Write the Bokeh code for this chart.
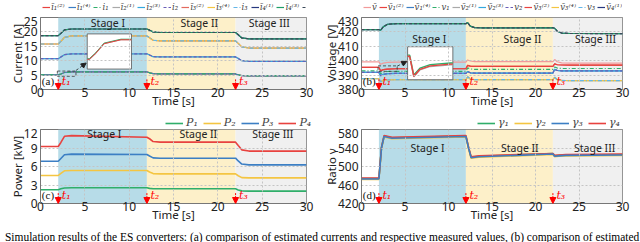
import numpy as np
from bokeh.plotting import figure
from bokeh.models import (Range1d, FixedTicker, Legend, LegendItem, Label, Arrow,
                          NormalHead, Div, Spacer)
from bokeh.layouts import column, row
from bokeh.embed import file_html
from bokeh.resources import INLINE

# ---------------- data ----------------
x_ticks = [0, 5, 10, 15, 20, 25, 30]
events = [2, 12, 22]
event_labels = ["t\u2081", "t\u2082", "t\u2083"]
stage_edges = [2, 12, 22, 30]
stage_names = ["Stage I", "Stage II", "Stage III"]

# (a) currents and (c) powers
t_ac = [0, 2, 2.3, 2.7, 3.5, 12, 12.3, 12.7, 13.5, 22, 22.3, 22.7, 23.5, 30]
cur_i1 = [5.1, 5.1, 5.4, 5.9, 6.1, 6.1, 5.8, 5.5, 5.4, 5.4, 5.1, 4.8, 4.7, 4.7]
cur_i2 = [10.7, 10.7, 11.3, 12.1, 12.4, 12.4, 12.0, 11.4, 11.3, 11.3, 10.8, 10.0, 9.8, 9.8]
cur_i3 = [15.8, 15.8, 16.7, 18.1, 18.6, 18.6, 18.0, 17.1, 16.9, 16.9, 16.0, 14.8, 14.4, 14.4]
cur_i4 = [18.7, 18.7, 19.5, 20.7, 21.0, 21.0, 20.6, 20.0, 19.8, 19.8, 19.0, 17.9, 17.6, 17.6]

pow_p1 = [2.22, 2.22, 2.38, 2.52, 2.55, 2.55, 2.45, 2.40, 2.38, 2.38, 2.20, 2.05, 2.00, 2.00]
pow_p2 = [4.54, 4.54, 4.90, 5.30, 5.35, 5.35, 5.10, 4.85, 4.80, 4.80, 4.50, 4.20, 4.16, 4.16]
pow_p3 = [6.85, 6.85, 7.30, 7.90, 8.00, 7.95, 7.70, 7.40, 7.35, 7.35, 6.90, 6.40, 6.27, 6.27]
pow_p4 = [9.25, 9.25, 9.90, 10.90, 11.00, 10.75, 10.50, 10.05, 9.95, 9.95, 9.40, 8.70, 8.50, 8.50]

# (b) voltages
t_b = [0, 2, 2.2, 2.5, 3.0, 4.0, 12, 12.2, 12.5, 13.0, 14.0, 22, 22.2, 22.5, 23.0, 24.0, 30]
volt_top = [421.6, 421.6, 421.2, 423.5, 425.3, 425.7, 425.7, 426.5, 424.0, 423.0, 422.8, 422.9, 422.5, 420.5, 419.2, 418.9, 418.8]
volt_mean = [399.2, 399.2, 397.5, 398.3, 398.8, 399.0, 399.0, 400.5, 399.8, 399.4, 399.4, 399.4, 400.8, 399.3, 398.5, 398.3, 398.3]
volt_red = [395.3, 395.3, 393.0, 393.8, 394.2, 394.4, 394.4, 396.8, 396.2, 396.0, 396.0, 396.0, 397.8, 397.2, 397.0, 396.9, 396.9]
volt_green = [393.0, 393.0, 391.0, 392.0, 392.5, 392.6, 392.6, 395.0, 394.3, 394.0, 394.0, 394.0, 395.6, 394.9, 394.6, 394.6, 394.6]
volt_blue = [391.9, 391.9, 389.5, 390.5, 391.0, 391.2, 391.2, 392.5, 391.6, 391.4, 391.4, 391.4, 394.0, 393.2, 393.0, 393.0, 393.0]
volt_low = [387.5, 387.5, 385.5, 386.3, 386.7, 386.8, 386.8, 388.8, 387.3, 386.8, 386.8, 386.8, 388.5, 386.8, 386.3, 386.2, 386.2]

# (d) ratios
t_d = [0, 2, 2.3, 2.6, 3.5, 12, 12.3, 12.6, 13.5, 22, 22.2, 22.7, 23.5, 30]
ratio_g1 = [474, 474, 541, 566, 562, 566, 541, 520, 522, 528, 523, 524, 525, 526]
ratio_g2 = [472, 472, 539, 564, 560, 564, 539, 518, 520, 526, 521, 522, 523, 524]
ratio_g3 = [473, 473, 540, 565, 561, 565, 540, 519, 521, 527, 522, 523, 524, 525]
ratio_g4 = [475, 475, 542, 567, 563, 567, 542, 521, 523, 528, 524, 525, 526, 527]

caption = ("Simulation results of the ES converters: (a) comparison of estimated currents "
           "and respective measured values, (b) comparison of estimated")

# ---------------- styling ----------------
STAGE_COLORS = ["#b7dce8", "#fdf0c9", "#f0f0f0"]
RED, BLUE, GREEN = "#e8423f", "#3c7fc4", "#2fae6a"
GRAY, LBLUE, PURPLE = "#a9a9a9", "#35a8de", "#6a5fb8"
SALMON, YELLOW, SKY = "#e36a5e", "#f4c542", "#63b6e8"
NAVY, DKGREEN, DARK = "#27387f", "#1f9e66", "#3c4a5a"
PINK = "#f29a9a"
DASH, DASHDOT = "3 2", "4 2 1 2"
SANS = "Noto Sans"
SERIF = "DejaVu Serif"
BOTTOM = 23


def make_fig(yr, yticks, ylabel, h, left, right, top):
    p = figure(width=320, height=h, x_range=Range1d(0, 30),
               y_range=Range1d(*yr), output_backend="svg", toolbar_location=None,
               min_border_left=left, min_border_right=right, min_border_top=top,
               min_border_bottom=BOTTOM)
    p.xaxis.ticker = FixedTicker(ticks=x_ticks)
    p.yaxis.ticker = FixedTicker(ticks=yticks)
    p.xaxis.axis_label = "Time [s]"
    p.yaxis.axis_label = ylabel
    for ax in (p.xaxis[0], p.yaxis[0]):
        ax.axis_label_text_font = SANS
        ax.axis_label_text_font_size = "11.5px"
        ax.axis_label_text_font_style = "normal"
        ax.axis_label_text_color = "#222222"
        ax.major_label_text_font = SANS
        ax.major_label_text_font_size = "12px"
        ax.major_label_text_color = "#222222"
        ax.major_tick_in = 0
        ax.major_tick_out = 0
        ax.minor_tick_in = 0
        ax.minor_tick_out = 0
        ax.axis_line_color = "#777777"
    p.xaxis.major_label_standoff = -2
    p.xaxis.axis_label_standoff = -7
    p.yaxis.major_label_standoff = 3
    p.yaxis.axis_label_standoff = -4
    for g in (p.xgrid[0], p.ygrid[0]):
        g.grid_line_color = "#c4c4c4"
        g.grid_line_dash = "2 2"
        g.level = "glyph"
    p.outline_line_color = "#777777"
    p.background_fill_color = "white"
    p.border_fill_color = "white"
    p.quad(left=stage_edges[:-1], right=stage_edges[1:], bottom=yr[0], top=yr[1],
           fill_color=STAGE_COLORS, line_color=None, level="underlay")
    return p


def decorate(p, yr, tag, stage_y, stage_x):
    rng = yr[1] - yr[0]
    for name, cx in zip(stage_names, stage_x):
        p.add_layout(Label(x=cx, y=stage_y, text=name, text_font=SANS,
                           text_font_size="10.5px", text_align="center",
                           text_baseline="middle", text_color="#222222"))
    for e, lab in zip(events, event_labels):
        p.add_layout(Arrow(x_start=e, y_start=yr[0] + 0.14 * rng, x_end=e, y_end=yr[0],
                           line_color="red", line_width=1, line_dash="2 1",
                           end=NormalHead(size=6, fill_color="red", line_color="red")))
        p.add_layout(Label(x=e + 0.4, y=yr[0] + 0.02 * rng, text=lab, text_font=SERIF,
                           text_font_style="italic", text_font_size="11px",
                           text_color="red", text_baseline="bottom"))
    p.add_layout(Label(x=0.15, y=yr[0] + 0.03 * rng, text=tag, text_font="Liberation Serif",
                       text_font_size="11px", text_color="#111111", text_baseline="bottom"))


def legend_strip(spec, h, x0, m, fs, gw, spacing, standoff, lw):
    """A thin strip (spacer + legend-only figure) sitting above a panel."""
    w = 320 - x0
    lf = figure(width=w, height=h, x_range=Range1d(0, 1), y_range=Range1d(0, 1),
                x_axis_type=None, y_axis_type=None, output_backend="svg",
                toolbar_location=None, min_border=0, min_border_left=0,
                min_border_right=0, min_border_top=0, min_border_bottom=0)
    lf.outline_line_color = None
    lf.background_fill_color = "white"
    lf.border_fill_color = "white"
    items = []
    for lab, col, dash in spec:
        kw = {"line_dash": dash} if dash else {}
        # one off-screen segment per entry so the legend glyph has a style to draw
        r = lf.line(x=[5, 6], y=[5, 5], line_color=col, line_width=lw, **kw)
        items.append(LegendItem(label=lab, renderers=[r]))
    lg = Legend(items=items, location="top_left", orientation="horizontal",
                label_text_font=SERIF, label_text_font_style="italic",
                label_text_font_size=fs, glyph_width=gw, glyph_height=8,
                label_height=8, label_width=0, label_standoff=standoff, spacing=spacing,
                padding=0, margin=m, border_line_color=None,
                background_fill_alpha=0)
    lf.add_layout(lg)
    if x0 > 0:
        return row(Spacer(width=x0, height=h), lf)
    return lf


def inset(p, box, win, series):
    bx0, bx1, by0, by1 = box
    wx0, wx1, wy0, wy1 = win
    p.quad(left=[wx0], right=[wx1], bottom=[wy0], top=[wy1], fill_alpha=0,
           line_color="#333333", line_dash="3 2", line_width=0.8)
    p.quad(left=[bx0], right=[bx1], bottom=[by0], top=[by1], fill_color="white",
           line_color="#555555", line_width=0.8)
    for xs, ys, col, w, dy in series:
        xs = np.asarray(xs, float)
        ys = np.asarray(ys, float)
        m = (xs > wx0) & (xs < wx1)
        X = np.concatenate([[wx0], xs[m], [wx1]])
        Y = np.concatenate([[np.interp(wx0, xs, ys)], ys[m], [np.interp(wx1, xs, ys)]])
        sx = bx0 + (X - wx0) / (wx1 - wx0) * (bx1 - bx0)
        sy = by0 + (Y - wy0) / (wy1 - wy0) * (by1 - by0) + dy
        p.line(sx, sy, line_color=col, line_width=w)


LEG_H = 16
H_TOP, H_BOT = 96, 98

# ---------------- (a) currents ----------------
yr_a = (0, 25)
pa = make_fig(yr_a, [0, 5, 10, 15, 20, 25], "Current [A]", H_TOP, 40, 14, 1)
spec_a = [
    ("ĩ\u2081\u207d\u00b2\u207e", RED, None, cur_i1), ("ĩ\u2081\u207d\u2074\u207e", BLUE, None, cur_i1),
    ("i\u2081", GREEN, DASHDOT, cur_i1),
    ("ĩ\u2082\u207d\u00b9\u207e", GRAY, None, cur_i2), ("ĩ\u2082\u207d\u00b3\u207e", LBLUE, None, cur_i2),
    ("i\u2082", PURPLE, DASH, cur_i2),
    ("ĩ\u2083\u207d\u00b2\u207e", SALMON, None, cur_i3), ("ĩ\u2083\u207d\u2074\u207e", YELLOW, None, cur_i3),
    ("i\u2083", SKY, DASHDOT, cur_i3),
    ("ĩ\u2084\u207d\u00b9\u207e", NAVY, None, cur_i4), ("ĩ\u2084\u207d\u00b3\u207e", DKGREEN, None, cur_i4),
    ("i\u2084", DARK, DASH, cur_i4),
]
for lab, col, dash, ys in spec_a:
    kw = {"line_dash": dash} if dash else {}
    pa.line(t_ac, ys, line_color=col, line_width=1.2, **kw)
inset(pa, (5.27, 10.26, 7.1, 19.3), (1.9, 4.0, 4.6, 6.4),
      [(t_ac, cur_i1, GRAY, 1.2, 0.0), (t_ac, cur_i1, GREEN, 1.0, 0.2), (t_ac, cur_i1, RED, 1.0, 0.0)])
pa.add_layout(Arrow(x_start=4.0, y_start=6.6, x_end=5.15, y_end=9.2, line_color="#222222",
                    line_width=0.8, line_dash="3 2",
                    end=NormalHead(size=5, fill_color="#222222", line_color="#222222")))
decorate(pa, yr_a, "(a)", 23.0, [7.6, 17.9, 25.8])
la = legend_strip([(s[0], s[1], s[2]) for s in spec_a], LEG_H, 0, 2, "8.5px", 8, 3, 1, 1.2)

# ---------------- (b) voltages ----------------
yr_b = (380, 430)
pb = make_fig(yr_b, [380, 390, 400, 410, 420, 430], "Voltage [V]", H_TOP, 36, 18, 1)
spec_b = [
    ("v\u0304", PINK, None, volt_mean),
    ("ṽ\u2081\u207d\u00b2\u207e", RED, None, volt_red), ("ṽ\u2081\u207d\u2074\u207e", BLUE, None, volt_blue),
    ("v\u2081", GREEN, DASHDOT, volt_green),
    ("ṽ\u2082\u207d\u00b9\u207e", GRAY, None, volt_low), ("ṽ\u2082\u207d\u00b3\u207e", LBLUE, None, volt_blue),
    ("v\u2082", PURPLE, DASH, volt_blue),
    ("ṽ\u2083\u207d\u00b2\u207e", RED, None, volt_red), ("ṽ\u2083\u207d\u2074\u207e", YELLOW, None, volt_low),
    ("v\u2083", SKY, DASHDOT, volt_low),
    ("ṽ\u2084\u207d\u00b9\u207e", NAVY, None, volt_top), ("ṽ\u2084\u207d\u00b3\u207e", DKGREEN, None, volt_top),
    ("v\u2084", DARK, DASH, volt_top),
]
for lab, col, dash, ys in spec_b:
    kw = {"line_dash": dash} if dash else {}
    pb.line(t_b, ys, line_color=col, line_width=1.2, **kw)
inset(pb, (5.3, 10.5, 386.8, 409.7), (1.9, 4.1, 392.6, 396.4),
      [(t_b, volt_red, GREEN, 1.4, 0.8), (t_b, volt_red, GRAY, 1.2, -0.5), (t_b, volt_red, RED, 1.4, 0.0)])
pb.add_layout(Arrow(x_start=4.1, y_start=396.2, x_end=5.2, y_end=399.5, line_color="#222222",
                    line_width=0.8, line_dash="3 2",
                    end=NormalHead(size=5, fill_color="#222222", line_color="#222222")))
decorate(pb, yr_b, "(b)", 415.0, [7.8, 18.5, 26.9])
lb = legend_strip([(s[0], s[1], s[2]) for s in spec_b], LEG_H, 0, 2, "8.5px", 8, 2, 1, 1.2)

# ---------------- (c) powers ----------------
yr_c = (0, 12)
pc = make_fig(yr_c, [0, 3, 6, 9, 12], "Power [kW]", H_BOT, 40, 14, 1)
spec_c = [("P\u2081", GREEN, None, pow_p1), ("P\u2082", YELLOW, None, pow_p2),
          ("P\u2083", BLUE, None, pow_p3), ("P\u2084", RED, None, pow_p4)]
for lab, col, dash, ys in spec_c:
    pc.line(t_ac, ys, line_color=col, line_width=1.6)
decorate(pc, yr_c, "(c)", 11.35, [7.2, 17.8, 26.2])
lc = legend_strip([(s[0], s[1], s[2]) for s in spec_c], LEG_H, 161, 4, "11px", 18, 5, 3, 1.6)

# ---------------- (d) ratios ----------------
yr_d = (420, 580)
pd_ = make_fig(yr_d, [420, 460, 500, 540, 580], "Ratio \u03b3", H_BOT, 36, 18, 1)
spec_d = [("\u03b3\u2081", GREEN, None, ratio_g1), ("\u03b3\u2082", YELLOW, None, ratio_g2),
          ("\u03b3\u2083", BLUE, None, ratio_g3), ("\u03b3\u2084", RED, None, ratio_g4)]
for idx in [0, 1, 3, 2]:
    lab, col, dash, ys = spec_d[idx]
    pd_.line(t_d, ys, line_color=col, line_width=1.6)
decorate(pd_, yr_d, "(d)", 540.0, [7.6, 18.2, 26.8])
ld = legend_strip([(s[0], s[1], s[2]) for s in spec_d], LEG_H, 153, 4, "11px", 18, 5, 3, 1.6)

cap = Div(text=caption, width=640, height=16,
          styles={"font-family": "'Liberation Serif', serif", "font-size": "11.45px",
                  "white-space": "nowrap", "color": "#000000", "line-height": "12px"})

layout = column(row(column(la, pa), column(lb, pb)),
                row(column(lc, pc), column(ld, pd_)), cap)
open("out.html", "w").write(file_html(layout, INLINE))
